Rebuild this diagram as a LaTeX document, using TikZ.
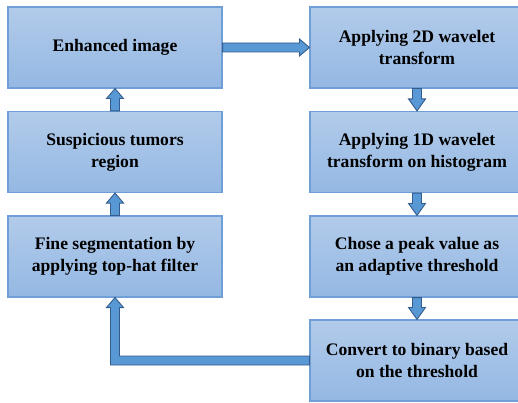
\documentclass[tikz,border=0pt]{standalone}
\usepackage{fontspec}
\setmainfont{Liberation Serif}
\usetikzlibrary{calc}
\definecolor{boxtop}{RGB}{178,203,234}
\definecolor{boxbot}{RGB}{148,184,227}
\definecolor{boxline}{RGB}{112,158,214}
\definecolor{arrfill}{RGB}{88,152,212}
\definecolor{arrline}{RGB}{52,92,140}
\tikzset{
  stepbox/.style={draw=boxline, line width=1.1pt, top color=boxtop, bottom color=boxbot,
    minimum width=214pt, minimum height=81pt, inner sep=0pt, align=center,
    font=\fontsize{17.6pt}{22pt}\selectfont\bfseries},
  blockarr/.style={fill=arrfill, draw=arrline, line width=0.9pt, line join=miter}
}
% up arrow: from (#1.north) to (#2.south)
\newcommand\blkuparr[2]{%
  \path let \p1=(#1.north), \p2=(#2.south) in [blockarr]
    (\x1-4.5pt,\y1) -- (\x1-4.5pt,\y2-10pt) -- (\x1-8.5pt,\y2-10pt) -- (\x1,\y2)
    -- (\x1+8.5pt,\y2-10pt) -- (\x1+4.5pt,\y2-10pt) -- (\x1+4.5pt,\y1) -- cycle;}
% down arrow: from (#1.south) to (#2.north)
\newcommand\blkdownarr[2]{%
  \path let \p1=(#1.south), \p2=(#2.north) in [blockarr]
    (\x1-4.5pt,\y1) -- (\x1-4.5pt,\y2+12pt) -- (\x1-8.5pt,\y2+12pt) -- (\x1,\y2)
    -- (\x1+8.5pt,\y2+12pt) -- (\x1+4.5pt,\y2+12pt) -- (\x1+4.5pt,\y1) -- cycle;}
\begin{document}
\begin{tikzpicture}[x=1pt,y=1pt]
\useasboundingbox (0,0) rectangle (518,402);
\node[stepbox] (e) at (115,354.5) {Enhanced image};
\node[stepbox] (s) at (115,250) {Suspicious tumors\\region};
\node[stepbox] (f) at (115,145.5) {Fine segmentation by\\applying top-hat filter};
\node[stepbox] (w2) at (417,354.5) {Applying 2D wavelet\\transform};
\node[stepbox] (w1) at (417,250) {Applying 1D wavelet\\transform on histogram};
\node[stepbox] (p) at (417,145.5) {Chose a peak value as\\an adaptive threshold};
\node[stepbox] (c) at (417,41.5) {Convert to binary based\\on the threshold};
% horizontal arrow e -> w2
\path let \p1=(e.east), \p2=(w2.west) in [blockarr]
  (\x1,\y1+4.5pt) -- (\x2-10pt,\y1+4.5pt) -- (\x2-10pt,\y1+8.5pt) -- (\x2,\y1)
  -- (\x2-10pt,\y1-8.5pt) -- (\x2-10pt,\y1-4.5pt) -- (\x1,\y1-4.5pt) -- cycle;
\blkuparr{s}{e}
\blkuparr{f}{s}
\blkdownarr{w2}{w1}
\blkdownarr{w1}{p}
\blkdownarr{p}{c}
% elbow arrow c -> f
\path let \p1=(c.west), \p2=(f.south) in [blockarr]
  (\x1,\y1+4.5pt) -- (\x2+4.5pt,\y1+4.5pt) -- (\x2+4.5pt,\y2-10pt) -- (\x2+8.5pt,\y2-10pt)
  -- (\x2,\y2) -- (\x2-8.5pt,\y2-10pt) -- (\x2-4.5pt,\y2-10pt) -- (\x2-4.5pt,\y1-4.5pt)
  -- (\x1,\y1-4.5pt) -- cycle;
\end{tikzpicture}
\end{document}
